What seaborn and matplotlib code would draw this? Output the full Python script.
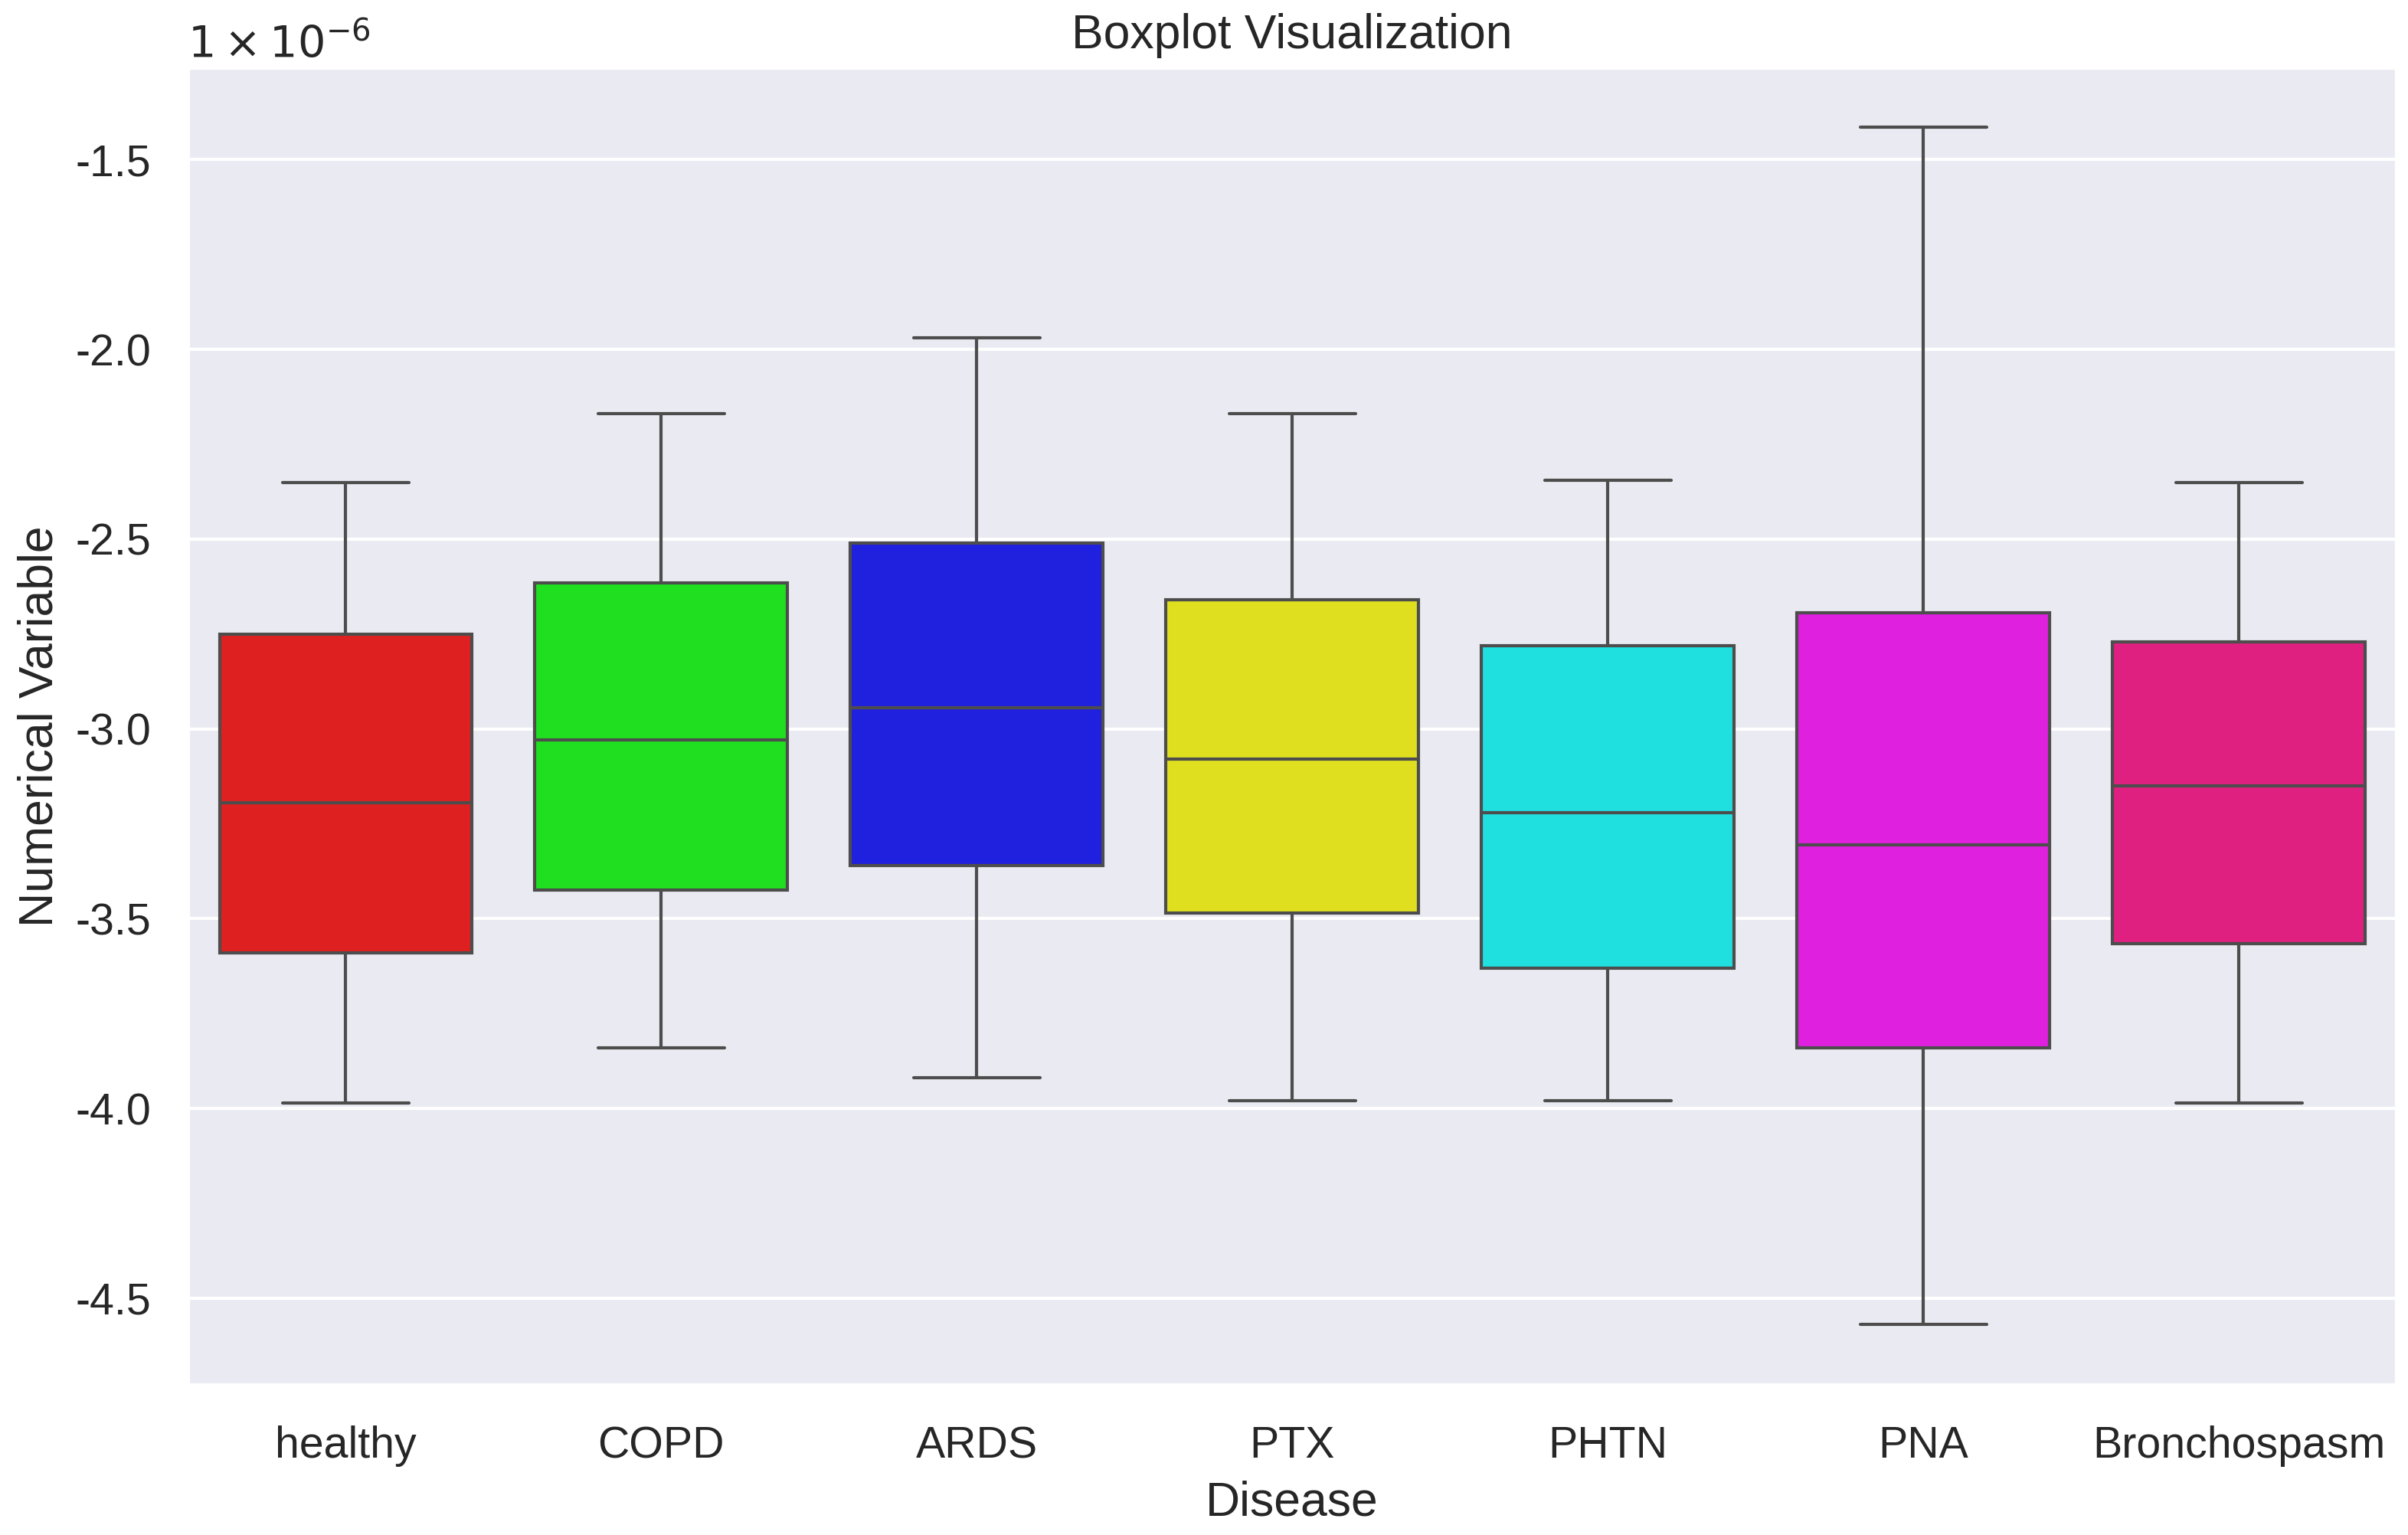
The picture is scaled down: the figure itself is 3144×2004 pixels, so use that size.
import numpy as np
import pandas as pd
import matplotlib
matplotlib.use("Agg")
import matplotlib.pyplot as plt
import matplotlib.ticker as mticker
import seaborn as sns

# five-number summaries (x 1e-6)
diseases = ["healthy", "COPD", "ARDS", "PTX", "PHTN", "PNA", "Bronchospasm"]
low = [-3.985, -3.84, -3.92, -3.98, -3.98, -4.57, -3.985]
q1 = [-3.59, -3.425, -3.36, -3.485, -3.63, -3.84, -3.565]
median = [-3.195, -3.03, -2.945, -3.08, -3.22, -3.305, -3.15]
q3 = [-2.75, -2.615, -2.51, -2.66, -2.78, -2.695, -2.77]
high = [-2.35, -2.17, -1.97, -2.17, -2.345, -1.415, -2.35]
colors = ["#ff0000", "#00ff00", "#0000ff", "#ffff00", "#00ffff", "#ff00ff", "#ff0080"]

rows = []
for i, d in enumerate(diseases):
    for v in (low[i], q1[i], median[i], q3[i], high[i]):
        rows.append({"Disease": d, "Numerical Variable": v * 1e-6})
df = pd.DataFrame(rows)


class OneTimesFormatter(mticker.ScalarFormatter):
    # offset text shown as "1 x 10^n"
    def get_offset(self):
        if self.orderOfMagnitude == 0:
            return ""
        return r"$1\times10^{%d}$" % self.orderOfMagnitude


sns.set_theme(style="darkgrid", font_scale=1.25)
plt.rcParams["font.family"] = ["Liberation Sans", "DejaVu Sans"]
plt.rcParams["axes.unicode_minus"] = False
plt.rcParams["xtick.major.pad"] = 6.9
plt.rcParams["ytick.major.pad"] = 5.5

fig, ax = plt.subplots(figsize=(10.483, 6.68), dpi=300)
sns.boxplot(data=df, x="Disease", y="Numerical Variable", hue="Disease",
            palette=colors, whis=np.inf, legend=False, ax=ax)
fmt = OneTimesFormatter()
fmt.set_powerlimits((-5, 6))
ax.yaxis.set_major_formatter(fmt)
ax.set_title("Boxplot Visualization")
plt.subplots_adjust(left=0.078, right=0.995, top=0.956, bottom=0.098)
plt.savefig("out.png")
